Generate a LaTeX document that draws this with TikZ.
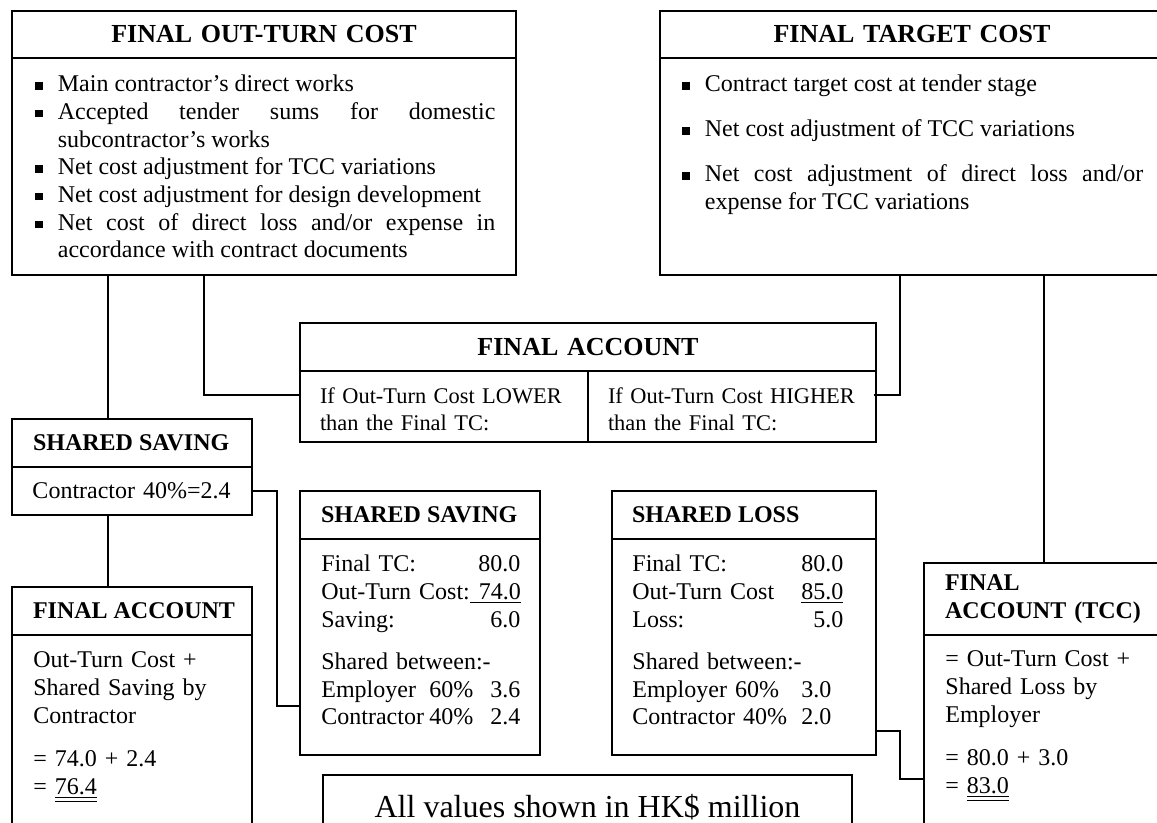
\documentclass[tikz,border=0pt]{standalone}
\usepackage{fontspec}
\setmainfont{Liberation Serif}
\usepackage{tikz}
\hyphenpenalty=10000
\newcommand{\costitem}[1]{\noindent\hangindent=11.25pt\hangafter=1%
    \makebox[11.25pt][l]{\rule[1.1pt]{3.6pt}{3.6pt}}\strut#1\par}
\newcommand{\valrow}[3]{\makebox[#1][l]{#2\hfill#3}}
\tikzset{
    cell/.style={draw, line width=1pt, inner sep=0pt, outer sep=0pt, anchor=north west},
    big head/.style={cell, align=center, font=\fontsize{13pt}{15pt}\selectfont\bfseries},
    small head/.style={cell, font=\fontsize{12pt}{13.8pt}\selectfont\bfseries},
    body/.style={cell, align=left, font=\fontsize{12pt}{13.85pt}\selectfont},
    cell text/.style={anchor=north west, inner sep=0pt, align=left, font=\fontsize{12pt}{13.85pt}\selectfont},
    link/.style={line width=1pt},
}

\begin{document}
\begin{tikzpicture}[x=0.5pt, y=-0.5pt]
    \useasboundingbox (0,0) rectangle (1157,823);
    \clip (0,0) rectangle (1157,823);
    % top row
    \node[big head, minimum width=252pt, minimum height=23.5pt, text width=240pt] (otc-head) at (12,11) {FINAL OUT-TURN COST};
    \node[body, minimum width=252pt, minimum height=108.5pt] (otc-body) at (otc-head.south west) {};
    \node[cell text, text width=230pt, align=justify] (otc-text) at (35,72) {%
        \costitem{Main contractor's direct works}
        \costitem{Accepted tender sums for domestic\linebreak subcontractor's works}
        \costitem{Net cost adjustment for TCC variations}
        \costitem{Net cost adjustment for design development}
        \costitem{Net cost of direct loss and/or expense in\linebreak accordance with contract documents}};
    \node[big head, minimum width=252pt, minimum height=23.5pt, text width=240pt] (ftc-head) at (660,11) {FINAL TARGET COST};
    \node[body, minimum width=252pt, minimum height=108.5pt] (ftc-body) at (ftc-head.south west) {};
    \node[cell text, text width=230.5pt, align=justify] (ftc-text) at (682,72) {%
        \costitem{Contract target cost at tender stage}
        \setlength{\parskip}{8.65pt}%
        \costitem{Net cost adjustment of TCC variations}
        \costitem{Net cost adjustment of direct loss and/or\linebreak expense for TCC variations}};
    % final account in the middle
    \node[big head, minimum width=288pt, minimum height=24pt, text width=270pt] (fac-head) at (300,323) {FINAL ACCOUNT};
    \node[body, minimum width=144pt, minimum height=35.5pt, text width=124pt, font=\fontsize{11.2pt}{13.5pt}\selectfont] (fac-low) at (fac-head.south west) {\rule{0pt}{10.7pt}If Out-Turn Cost LOWER\\than the Final TC:};
    \node[body, minimum width=144pt, minimum height=35.5pt, text width=124pt, font=\fontsize{11.2pt}{13.5pt}\selectfont] (fac-high) at (fac-low.north east) {\rule{0pt}{10.7pt}If Out-Turn Cost HIGHER\\than the Final TC:};
    % saving side
    \node[small head, minimum width=120pt, minimum height=24pt] (sss-head) at (12,419) {\makebox[99pt][l]{SHARED SAVING}};
    \node[body, minimum width=120pt, minimum height=24pt, text width=99.5pt] (sss-body) at (sss-head.south west) {Contractor 40\%=2.4};
    \node[small head, minimum width=120pt, minimum height=24pt] (lfa-head) at (12,587) {\makebox[99pt][l]{FINAL ACCOUNT}};
    \node[body, minimum width=120pt, minimum height=102.5pt] (lfa-body) at (lfa-head.south west) {};
    \node[cell text, text width=99pt] (lfa-text) at (33,648) {%
        \strut Out-Turn Cost +\\
        Shared Saving by\\
        Contractor\\[8pt]
        = 74.0 + 2.4\\
        = \underline{\underline{76.4}}};
    \node[small head, minimum width=120pt, minimum height=24pt] (mss-head) at (300,491) {\makebox[99pt][l]{SHARED SAVING}};
    \node[body, minimum width=120pt, minimum height=108pt] (mss-body) at (mss-head.south west) {};
    \node[cell text, text width=99.5pt] (mss-text) at (321,552) {%
        \strut\valrow{99.5pt}{Final TC:}{80.0}\\
        \valrow{99.5pt}{Out-Turn Cost:}{\underline{\makebox[25.5pt][r]{74.0}}}\\
        \valrow{99.5pt}{Saving:}{6.0}\\[7.25pt]
        Shared between:-\\
        \valrow{99.5pt}{\makebox[54pt][l]{Employer}60\%}{3.6}\\
        \valrow{99.5pt}{\makebox[54pt][l]{Contractor}40\%}{2.4}};
    % loss side
    \node[small head, minimum width=132pt, minimum height=24pt] (sls-head) at (612,491) {\makebox[112pt][l]{SHARED LOSS}};
    \node[body, minimum width=132pt, minimum height=108pt] (sls-body) at (sls-head.south west) {};
    \node[cell text, text width=105.5pt] (sls-text) at (632,552) {%
        \strut\valrow{105.5pt}{Final TC:}{80.0}\\
        \valrow{105.5pt}{Out-Turn Cost}{\underline{85.0}}\\
        \valrow{105.5pt}{Loss:}{5.0}\\[7.25pt]
        Shared between:-\\
        \makebox[84.5pt][l]{Employer 60\%}3.0\\
        \makebox[84.5pt][l]{Contractor 40\%}2.0};
    \node[small head, minimum width=120pt, minimum height=36pt, text width=99pt, align=left] (tfa-head) at (924,563) {FINAL\\ACCOUNT (TCC)};
    \node[body, minimum width=120pt, minimum height=102.5pt] (tfa-body) at (tfa-head.south west) {};
    \node[cell text, text width=110pt] (tfa-text) at (945,647) {%
        \strut = Out-Turn Cost +\\
        Shared Loss by\\
        Employer\\[7.75pt]
        = 80.0 + 3.0\\
        = \underline{\underline{83.0}}};
    \node[cell, minimum width=264.5pt, minimum height=32pt, font=\fontsize{16pt}{19pt}\selectfont] (note) at (323,775) {All values shown in HK\$ million};
    % connectors
    \draw[link] ([xshift=48pt]otc-body.south west) -- ([xshift=48pt]sss-head.north west);
    \draw[link] ([xshift=96pt]otc-body.south west) |- ([yshift=5.75pt]fac-low.west);
    \draw[link] ([xshift=120pt]ftc-body.south west) |- ([xshift=-1pt, yshift=5.75pt]fac-high.east);
    \draw[link] ([xshift=48pt]sss-body.south west) -- ([xshift=48pt]lfa-head.north west);
    \draw[link] (sss-body.east) -- ++(12.5pt,0pt) |- ([yshift=24.5pt]mss-body.south west);
    \draw[link] ([yshift=12pt]sls-body.south east) -- ++(12pt,0pt) |- ([yshift=-72pt]tfa-body.north west);
    \draw[link] ([xshift=192pt]ftc-body.south west) -- ([xshift=192pt]ftc-body.south west |- tfa-head.north);
\end{tikzpicture}
\end{document}
